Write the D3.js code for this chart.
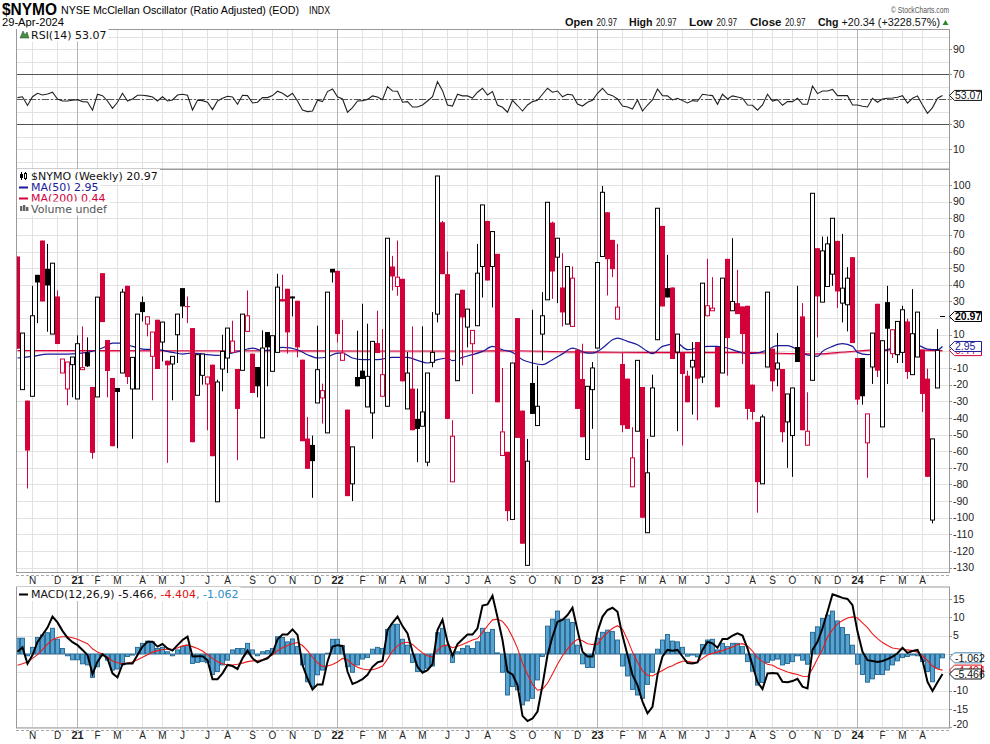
<!DOCTYPE html>
<html><head><meta charset="utf-8">
<script src="https://cdn.jsdelivr.net/npm/d3@7"></script>
<style>
body{margin:0;background:#fff;}
svg{display:block;}
text{font-family:"Liberation Sans",Arial,sans-serif;}
.leg{font-family:"DejaVu Sans",Verdana,sans-serif;font-size:11px;}
</style></head><body>
<svg id="c" width="990" height="744"></svg>
<script>
// ---------- DATA ----------
const startWeek = "2020-10-12";
const priorClose = 40;
const opens = [57,-23,-29.6,-27,46,66.6,49.6,10.4,33,-13,-22.6,-8,-28.6,-11,-0.6,-21.4,-27.4,47,6.8,-16,-22,-13,39.4,-22.6,-22.6,29.6,16.4,-3,19,5.6,-5.6,-7.6,10,38,27.2,14,-26.4,-14.4,-19.6,-8,-90.4,-10.6,-4,-0.6,-10.6,-11.4,12,-1.4,-9.4,-52,11.6,-12,-0.6,31.4,37.6,33,30.4,-5,-52.4,-56.2,-31,-28,-49,49.6,48.4,-5.4,-35,-79.6,-15.4,-11.6,-33.4,-37,5,-27,-33,51,39,43.6,-34.6,-22.4,-40.6,-45,-66.6,-6.6,22.4,77.6,46.4,-78.4,-17.6,37,14.6,4.6,15.4,51,78.4,51,58.6,-62.6,-60.4,-101,20,-35.6,-128.6,-19,-44.6,10.4,31,77.4,56.6,38.4,16.4,15,1,-16.6,-65,-23,2,57,83.6,67,19.4,-7.6,-16.4,-81.4,-48,-21.4,-109,-51,7,75.4,38,38.4,-0.4,-1,-14.6,-9.4,5.6,-15.4,21.4,24.4,2.6,-13,55.6,24.4,29,27,27.4,-20,-42.4,-79.6,-9.4,1.6,-10.6,-10.6,-42.4,-50.6,2.6,21,-56.4,-17.4,62,29.6,39,46.4,66.4,29,28,56.6,-4,-4,-55,-9.4,28.6,-45.4,29.6,-1.4,-2,-0.6,18,-14,-3.4,1,-16.4,-101.4,-22,20.97];
const highs = [57,11,-29.6,39.4,46,66.6,64.6,53,36.6,-4.6,-6.4,-3.4,9.6,15,8.4,-21.4,32.6,47,6.8,-16,-22,37.6,39.4,-3.6,22.4,33,20.8,11.6,19,17.6,-5.6,-3,22.4,38,33,14,-2,-1.6,-15.4,-8,-17,10,14,18.4,-10.6,22.4,36.6,-1.4,-9.4,12.6,11.6,9.4,46.6,46,37.6,33,30.4,-5,-39.4,-50.6,15.4,-19.4,35.6,49.6,48.4,19,-35,-57.4,12.4,28.6,16.6,6,24.4,13.4,68,57.4,66.6,43.6,-0.4,15,-22.4,15,-13,23.6,105.4,78.4,60,-41.4,34.4,37,25.4,12.6,64.6,88,78.4,72,58.6,-10,-60.4,-7,20,-35.6,-52.6,25,-8.6,35.6,89.6,78,68,59,51,51,1,4.6,-21,-6.4,53.4,99.4,83.6,67,64.6,-1,-16.4,-45.6,-5.4,-21.4,-52.6,-14,86,75.4,58,38.4,10.4,-1,-11.6,5.6,5.6,41,55.6,44.6,2.6,44,55.6,68,49,27,27.4,-20,-42.4,-38,35.6,1.6,11,-10.6,-25.6,-22,39.4,29,-24.6,95,62,69,69,80,66.4,70.6,50.6,56.6,-4,-4,-37.6,11,28.6,6.4,39.4,13,18,27.4,19.6,37.4,23.6,1,-10.4,-52.6,13.4,20.97];
const lows = [1.6,-23,-82.4,-27,17,30,11.8,10.4,4.4,-13,-32.4,-27.6,-28.6,-11,-9.4,-64.6,-27.4,17.6,-27.6,-57,-58.2,-13,-19.6,-52.6,-22.6,18,9,-29.4,-10.6,-6,-67,-29.4,-7,20,17,-54.6,-26.4,-20,-47.4,-63,-90.4,-24,-13,-0.6,-65.4,-11.4,12,-25,-27.6,-52,-21,-12,-0.6,30,-1.4,21,-3.6,-54,-70.6,-88,-31,-43.4,-49,41.4,5.4,-5.4,-87,-90,-21,-16.6,-33.4,-52.6,-1,-27,-33,36.6,33.4,-18,-34.6,-47.4,-66.6,-45,-69,-9.6,17.4,46.4,-40.6,-78.4,-17.6,-8.4,2.4,-25.6,15.4,32.4,42.6,26.4,-30.6,-62.6,-102,-101,-52,-115.6,-128.6,-37.6,-44.6,-5.4,31,31.6,29,15,16.4,15,-34.6,-51.6,-65,-46.6,2,57,33.6,44.6,19.4,-48.6,-46.6,-81.4,-48,-100,-109,-51,7,27,32.4,-4.6,-48,-56.6,-30.6,-38,-41.4,-19,21.4,24.4,-33.6,-13,-14.6,24.4,22.4,-7.6,-41,-41,-97,-79.6,-9.4,-24,-21,-54.6,-70,-75.4,-6.4,-47.4,-56.4,-17.4,8.4,29.6,39,39.4,26,17.4,12,5,-32,-32,-76,-19.6,-15.4,-45.4,-19.6,-4,-7,-7,-16.6,-14,-3.4,-36.4,-75.4,-103.4,-22,20.97];
const closes = [1.6,11,-59.6,21.4,41.4,30,39.6,53,4.4,-4.6,-6.4,-3.4,4.6,-9.8,-9,-61,32.6,17.6,-11.8,-57,-24.4,35.6,-15.4,-3.6,22.4,23.6,20.8,11.6,-10.6,17.6,-8.4,-3,22.4,27,26.8,-54.6,-2,-1.6,-15.4,-63,-18.4,0,14,6.2,-34.6,22.4,21.4,-25,-21,2,2.4,9.4,38.6,30,11.4,31.8,2.4,-54,-70.6,-66,-11,-23.6,35.6,47.4,10.4,-1,-87,-57.4,-21,-16.6,-15,6,-1,-14,68,45,44.6,-18,-13,-47.4,-46.6,-36.4,-13,-0.6,105.4,46.4,-40.6,-51,34.4,20.4,25.4,12.6,47,88,42.6,72,-30.6,-48.4,-96,-7,-52,-115.6,-66,-37.6,-33,21.4,89.6,48,68,23.4,51,44,-34.6,-51.6,-21,-10,53.4,95.6,55.4,49.4,26.6,-44.4,-46.6,-64,-5.4,-100,-73,-22,86,27,32.4,-4.6,10.4,-13.6,-30.6,-5.4,-16.4,41,27.4,26,-33.6,44,8,30,22.4,10.4,-34.6,-36.4,-78.6,-39.4,35.6,-18,-7,-48.6,-25.6,-22,-6.4,-47.4,-48,95,33,60.4,64.6,80,36,38,44,5,-29,-27,-37.6,11,-11.6,6.4,13.6,13,18,25,-12.4,10.6,23.6,-25.6,-75.4,-52.6,0.63,20.97];
const rsiValues = [51.3,52,45,52,54.8,53.4,54.2,55.6,50.2,48.6,48.6,49.2,49.7,48.1,47.8,41.2,54,52.9,48.6,42.8,47.6,54.8,48.6,50.2,53.2,53.2,52.7,51.8,48.6,52,48.6,49.4,53.4,54,53.2,41.4,49.2,48.9,47.6,41.7,48.6,50.8,52.4,51.8,46,53.2,52.9,47,47.6,51.3,51.3,52.9,56.4,54.8,52,54.8,48.6,41.4,40.1,40.6,49.2,48.1,56.1,58.2,52,50.2,39.6,43.3,48.6,48.9,49.9,52.7,51.8,49.7,60.1,56.6,56.4,47.6,48.1,43.8,43.8,45.4,48.6,52,64.1,56.9,45.4,44.6,54,52.7,52.7,51,55.6,58.8,53.4,56.1,45.4,43.6,39.6,49.2,45,40.6,45.4,48.1,49.2,54,58.8,55.6,56.6,52,54,53.4,46.2,44.6,47.6,49.2,54.8,58.8,54.2,52.9,50.2,44.6,43.8,42.2,49.4,40.6,45.4,49.4,58.2,52.9,52.7,49.4,50.8,48.9,47,48.9,48.4,54,53.4,52.9,46,54,50.2,52.7,51.8,50.8,45.4,45.2,41.2,45.4,54,48.6,49.7,45.2,48.1,48.1,50.8,46,46,60.6,54.5,56.6,56.6,57.9,52.9,52.9,52.9,45.4,45.4,44.4,43.8,50.8,47.6,50.2,50.8,51,51.6,52.9,46.8,50.8,52.7,45.4,38.8,43.3,50.8,53.07];
const ma50Weeks = [0,3,6,10,14,17,19,21,23,25,28,31,33,35,37,40,43,46,47,49,51,53,56,58,60,62,64,65,67,69,72,75,78,80,82,84,86,87,89,91,93,95,97,99,101,103,105,107,109,111,114,115,117,119,120,122,124,126,127,129,132,134,136,138,140,142,144,146,148,150,152,154,156,158,160,161,163,165,167,168,170,172,174,176,177,179,180,182,184,185];
const ma50Values = [-4,-3,-1.6,-1.6,-0.6,2,5,5,3,1.4,1,-0.6,-1.6,-1,-1.6,-2.4,-1,1.4,2,0.4,1,2.4,1,-2,-4,-3.4,-1,-1,-4,-5,-5,-3.6,-3.6,-5.4,-7,-5,-4,-5.6,-3.6,-2,0,3,1,-0.6,-5,-7,-8,-5,-1.5,2,-1,-1,2,7,8,6,4,0,-1.4,3,4.6,1,2,3,3,2,0,-1.4,-1,1,3.4,3.4,1,-2.2,-3,0,3,4.6,3,-0.6,-2,-1,1,4,6,5,4,1.4,1,2.95];
const ma200Weeks = [0,30,60,90,100,110,120,130,145,155,160,166,172,178,185];
const ma200Values = [0.5,0.4,0.3,0.2,0.4,-0.3,-0.5,-0.6,-0.6,-1.3,-1.5,-0.2,0.9,0.9,0.44];
const macdValues = [0.6,1.8,-2.7,-0.3,3.3,5.2,7.2,10.2,8.6,6.3,4.4,3.2,2.4,1.1,-0.3,-5.5,-2.1,-0.1,-1.2,-5.3,-6.4,-2.8,-2.6,-2.6,-0.3,2,3.3,3.3,2,2.7,1.5,0.9,2.4,3.8,4.7,-0.7,-0.6,-0.6,-1.7,-6.9,-6.9,-5.3,-3,-3.3,-4.1,-1.2,0.9,-1.2,-2.3,-1.7,-1.2,0.2,4,5.3,5.3,6.7,5.2,-3,-6.7,-9.7,-8.3,-8.3,-2.1,2,2.4,2.2,-4.8,-8.2,-7.6,-6.9,-5.7,-3.5,-2.3,-1.9,6.5,8.5,10.2,7.6,5.6,0.6,-3.5,-5.1,-4.4,-2.8,6.5,9.3,3.3,-0.5,2.7,4,5.3,5.3,7,13.2,13.5,15.9,10,3.8,-4.8,-5.6,-8.5,-16.9,-18.3,-17.6,-15.7,-8.5,-0.3,4.7,8.8,9.3,10.6,12.6,6.5,0.6,-0.7,-0.7,6.1,10.2,12,12.6,11.5,5,-0.3,-5.7,-8.5,-13,-16.2,-14.4,-5.7,-0.7,1.1,0.9,1.1,-0.7,-2.5,-2.6,-2.3,1.1,3.3,2.9,1.7,4.1,4.1,5,5.6,5,1.5,-3,-7.7,-9.6,-5.3,-5.2,-5.3,-7.6,-7.7,-7.4,-6.8,-8.9,-9.4,1.1,3.3,7,11.5,16.3,15.8,15.3,15,13.3,6.1,0.6,-1.7,-1.9,-2.2,-1.9,-1.4,-0.7,0.2,1.7,0.3,0.8,1.1,-1.7,-7.6,-10.1,-7.7,-5.466];
const signalValues = [-3.1,-2.7,-2.2,-1.2,-0.2,1.2,2.7,3.9,4.5,4.7,4.7,4.4,4,3.4,2.8,1.4,0.5,-0.1,-0.8,-1.9,-2.4,-2.6,-2.5,-2.2,-1.6,-0.9,-0.2,0.5,0.9,1.2,1.3,1.3,1.6,2.2,2.4,2,1.5,0.8,-0.2,-1.2,-2.1,-2.7,-3,-3,-2.8,-2.5,-2.1,-1.9,-1.8,-1.6,-0.9,-0.3,0.9,1.7,2.3,2.8,3.1,2.3,0.9,-0.9,-2.4,-3.4,-3.3,-2.9,-2.2,-1.2,-1.6,-2.8,-3.6,-4.1,-4.3,-4.3,-3.9,-3.3,-1.4,0.8,2.2,3,3.2,2.6,1.4,0.3,-0.5,-0.8,1,2.2,2.4,1.7,2.1,2.6,3.2,3.8,4.2,5.8,7.7,9.3,9.5,8.9,7.2,4.6,1.6,-2.5,-5.6,-8.3,-9.9,-9.6,-8,-5.5,-2.8,-0.5,1.3,3,4,3.6,2.8,2.6,2.6,4.5,5.8,7,7.7,6.8,3.9,0.5,-2.2,-4.6,-5.8,-6,-5.2,-4.5,-3.7,-3.2,-2.5,-2,-2,-2.3,-2.2,-1.2,-0.3,0.2,0.5,0.9,1.4,1.9,2.6,2.8,2.2,0.8,-1,-2.1,-2.8,-3.1,-3.8,-4.4,-4.9,-5.3,-5.6,-6.1,-6.2,-4,-1.3,1.2,4.6,6.6,8.2,9.1,9.8,10.1,9.8,8.5,7.2,5.5,4.2,3.1,2.3,1.6,1.4,1.2,1.1,0.9,0.5,-0.5,-1.8,-3.3,-4.1,-4.404];
const histValues = [4.3,4.3,-0.5,1.8,4.5,5.2,5.8,7,4,1.5,-0.5,-1.6,-1.6,-2.7,-3,-6.4,-3.5,-0.5,-1.7,-4.4,-4.1,-3,-0.7,-0.3,1.8,2.9,3.5,3.3,1.5,1.8,0.6,-0.5,1.1,2,2.4,-2.6,-2.3,-2.1,-2.4,-5.6,-4.8,-3,-1.7,1.1,1.5,1.5,2.9,1.1,-0.5,0.6,0.9,1.5,4.7,4.5,3.3,4.1,2,-3,-7.6,-8.9,-5.7,-4.4,0.2,4,4,2.3,-3.5,-5,-3,-1.4,-1,1.3,1.8,1.5,6.7,8.1,8.1,4,2.4,-2.3,-4.8,-4.7,-3.9,-3.3,5.8,7,2.4,-2.3,0.6,1.5,2.2,1.5,3.3,7,5.9,6.7,0.3,-5,-11.2,-8.9,-9.8,-13.9,-12.8,-12.1,-7.1,-0.7,7.6,9.5,11.7,9.5,9.5,8.6,2.4,-2.7,-3.7,-3.7,4.3,5.9,6.5,6.1,3.8,-3.3,-6,-9.7,-11.2,-12.1,-8.3,-5,1.3,3.8,5.3,3.5,3.3,1.8,-0.6,-0.3,-0.8,2.6,3.8,4,1.1,2.9,2,2.9,2.9,2,-2.1,-4.7,-8.5,-7.8,-2.3,-1.7,-1.4,-3,-2.6,-2.1,-0.5,-1.7,-2.8,5.9,7.4,9.7,10.6,11.7,9,7.2,5.3,2.4,-2.8,-5.6,-7.7,-6.8,-5.6,-5.6,-4.4,-3,-1.9,-1,-0.7,-0.3,-0.5,-2.1,-4.8,-7.6,-3.9,-1.062];
const monthTicks = ["2020-11-02","2020-12-07","2021-01-04","2021-02-01","2021-03-01","2021-04-05","2021-05-03","2021-05-31","2021-07-05","2021-08-02","2021-09-06","2021-10-04","2021-11-01","2021-12-06","2022-01-03","2022-02-07","2022-03-07","2022-04-04","2022-05-02","2022-06-06","2022-07-04","2022-08-01","2022-09-05","2022-10-03","2022-11-07","2022-12-05","2023-01-02","2023-02-06","2023-03-06","2023-04-03","2023-05-01","2023-06-05","2023-07-03","2023-08-07","2023-09-04","2023-10-02","2023-11-06","2023-12-04","2024-01-01","2024-02-05","2024-03-04","2024-04-01"];
const monthLabels = ["N","D","21","F","M","A","M","J","J","A","S","O","N","D","22","F","M","A","M","J","J","A","S","O","N","D","23","F","M","A","M","J","J","A","S","O","N","D","24","F","M","A"];
const mainGrid = d3.range(-130, 101, 10);
const mainTickLabels = mainGrid.filter(v => v !== 0 && v !== 20);   // 0 and 20 sit under the value tags
const rsiGrid = d3.range(0, 101, 10);
const rsiTickLabels = [90, 70, 30, 10];
const macdGrid = [15, 10, 5, 0, -5, -10, -15, -20];
const macdTickLabels = [15, 10, 5, -10, -15, -20];

// ---------- SETUP ----------
const RED = "#d3003a", BLUE_MA = "#1a1a9a", HIST_FILL = "#56a3d1", HIST_STROKE = "#23658f";
const svg = d3.select("#c");
const parse = d3.utcParse("%Y-%m-%d"), fmt = d3.utcFormat("%Y-%m-%d");
const first = parse(startWeek);
const weeks = opens.map((_, i) => fmt(d3.utcDay.offset(first, 7 * i)));
const x = d3.scaleBand().domain(weeks).range([15, 945]);
const cx = i => x(weeks[i]) + x.bandwidth() / 2;
const L = 16, R = 949;
const rsiY = d3.scaleLinear().domain([-5.8, 106.2]).range([169, 29]);
const mainY = d3.scaleLinear().domain([-132.9, 109.6]).range([572.5, 169]);
const macdY = d3.scaleLinear().domain([-20.2, 18.4]).range([728, 586.5]);
const crisp = v => Math.round(v) + 0.5;

const defs = svg.append("defs");
function clip(id, y0, y1) {
  defs.append("clipPath").attr("id", id).append("rect").attr("x", L + 0.5).attr("y", y0).attr("width", R - L - 0.5).attr("height", y1 - y0);
}
clip("cRsi", 29, 169); clip("cMain", 169, 572.5); clip("cMacd", 586.5, 728);

function grid(y, gridVals, y0, y1) {
  const g = svg.append("g");
  gridVals.forEach(v => {
    g.append("line").attr("x1", L).attr("x2", R).attr("y1", crisp(y(v))).attr("y2", crisp(y(v)))
      .attr("stroke", "#e2e2e2").attr("stroke-width", 1);
  });
  monthTicks.forEach((d, k) => {
    const xx = crisp(x(d) + x.bandwidth() / 2 - 0.5);
    const yr = /^\d\d$/.test(monthLabels[k]);
    g.append("line").attr("x1", xx).attr("x2", xx).attr("y1", y0).attr("y2", y1)
      .attr("stroke", yr ? "#b5b5b5" : "#e2e2e2").attr("stroke-width", 1);
  });
  return g;
}
function frame(y0, y1) {
  svg.append("rect").attr("x", L + 0.5).attr("y", y0 + 0.5).attr("width", R - L).attr("height", y1 - y0 - 1)
    .attr("fill", "none").attr("stroke", "#9a9a9a");
}
function yTicks(y, vals) {
  vals.forEach(v => svg.append("line").attr("x1", R).attr("x2", R + 3).attr("y1", crisp(y(v))).attr("y2", crisp(y(v))).attr("stroke", "#9a9a9a"));
}
function yLabels(y, vals, y0, y1) {
  vals.forEach(v => {
    const yy = Math.min(Math.max(y(v), y0 + 5), y1 - 4);
    svg.append("text").attr("x", 953).attr("y", yy + 3.6).attr("font-size", 10.5).attr("fill", "#222").text(v);
  });
}
function tag(yc, label, stroke, color, bold) {
  const g = svg.append("g");
  const x0 = 949.5, x1 = 981.5;
  g.append("path").attr("d", `M${x0},${yc} L${x0 + 5},${yc - 5} L${x1},${yc - 5} L${x1},${yc + 5} L${x0 + 5},${yc + 5} Z`)
    .attr("fill", "#fff").attr("stroke", stroke).attr("stroke-width", 1);
  g.append("text").attr("x", x0 + 5.5).attr("y", yc + 3.8).attr("font-size", 10.5).attr("font-weight", bold ? "bold" : "normal")
    .attr("fill", color).text(label);
}
function legendLine(xp, yb, parts) {
  const t = svg.append("text").attr("class", "leg").attr("x", xp).attr("y", yb);
  parts.forEach(p => t.append("tspan").attr("fill", p[1]).text(p[0]));
  const bb = t.node().getBBox();
  svg.insert("rect", () => t.node()).attr("x", xp - 14).attr("y", bb.y - 1).attr("width", bb.width + 16).attr("height", bb.height + 1).attr("fill", "#fff");
  return t;
}
function xLabels(yb) {
  monthTicks.forEach((d, k) => {
    const yr = /^\d\d$/.test(monthLabels[k]);
    svg.append("text").attr("x", x(d) + x.bandwidth() / 2).attr("y", yb).attr("text-anchor", "middle")
      .attr("font-size", yr ? 11 : 10).attr("font-weight", yr ? "bold" : "normal").attr("fill", "#222").text(monthLabels[k]);
  });
}
function dashStrip(y) {
  svg.append("line").attr("x1", L).attr("x2", R).attr("y1", y).attr("y2", y).attr("stroke", "#a8a8a8").attr("stroke-dasharray", "3,2");
}

// ---------- HEADER ----------
const NARROW = "'Liberation Sans Narrow','Liberation Sans',Arial";
svg.append("text").attr("x", 2).attr("y", 15).attr("font-family", NARROW)
  .attr("font-weight", "bold").attr("font-size", 16).attr("textLength", 55).attr("lengthAdjust", "spacingAndGlyphs").text("$NYMO");
svg.append("text").attr("x", 61).attr("y", 14).attr("font-family", NARROW)
  .attr("font-size", 11).attr("textLength", 238).attr("lengthAdjust", "spacingAndGlyphs").text("NYSE McClellan Oscillator (Ratio Adjusted) (EOD)");
svg.append("text").attr("x", 309).attr("y", 14).attr("font-family", NARROW).attr("font-size", 10)
  .attr("textLength", 21).attr("lengthAdjust", "spacingAndGlyphs").text("INDX");
svg.append("text").attr("x", 949).attr("y", 13).attr("text-anchor", "end").attr("font-size", 9.5).attr("fill", "#555")
  .attr("textLength", 58).attr("lengthAdjust", "spacingAndGlyphs").text("© StockCharts.com");
svg.append("text").attr("x", 2).attr("y", 26).attr("font-family", NARROW)
  .attr("font-size", 11.5).attr("textLength", 62).attr("lengthAdjust", "spacingAndGlyphs").text("29-Apr-2024");
[["Open", 565, 28, 1], ["20.97", 596.5, 20.5, 0], ["High", 629, 23.5, 1], ["20.97", 656, 20.5, 0], ["Low", 689, 23.5, 1], ["20.97", 716.5, 20.5, 0],
 ["Close", 750, 31.5, 1], ["20.97", 785, 20.5, 0], ["Chg", 818, 20.5, 1], ["+20.34 (+3228.57%)", 841.5, 98.5, 0]].forEach(s => {
  svg.append("text").attr("x", s[1]).attr("y", 26).attr("font-size", s[3] ? 10.5 : 10).attr("font-weight", s[3] ? "bold" : "normal")
    .attr("textLength", s[2]).attr("lengthAdjust", "spacingAndGlyphs").attr("fill", "#111").text(s[0]);
});
svg.append("path").attr("d", "M942.5,25 L948.5,25 L945.5,20 Z").attr("fill", "#2a8a2a");

// ---------- RSI PANEL ----------
grid(rsiY, rsiGrid, 29, 169);
svg.append("line").attr("x1", L).attr("x2", R).attr("y1", crisp(rsiY(70))).attr("y2", crisp(rsiY(70))).attr("stroke", "#555");
svg.append("line").attr("x1", L).attr("x2", R).attr("y1", crisp(rsiY(30))).attr("y2", crisp(rsiY(30))).attr("stroke", "#555");
svg.append("line").attr("x1", L).attr("x2", R).attr("y1", crisp(rsiY(50))).attr("y2", crisp(rsiY(50))).attr("stroke", "#555").attr("stroke-dasharray", "7,2,2,2");
svg.append("path").attr("clip-path", "url(#cRsi)")
  .attr("d", d3.line().x((d, i) => cx(i)).y(d => rsiY(d))(rsiValues))
  .attr("fill", "none").attr("stroke", "#222").attr("stroke-width", 1.1);
frame(29, 169.5);
legendLine(31, 38.5, [["RSI(14) 53.07", "#111"]]);
svg.append("path").attr("d", "M20,38 L23,31 L25,35 L27,32 L29,38 Z").attr("fill", "#4a8a4a").attr("stroke", "#2d5e2d").attr("stroke-width", 0.6);
yTicks(rsiY, [90, 70, 50, 30, 10]);
yLabels(rsiY, rsiTickLabels, 29, 169);
tag(rsiY(53.07), "53.07", "#111", "#111", false);

// ---------- MAIN PANEL ----------
grid(mainY, mainGrid, 169, 572.5);
const gm = svg.append("g").attr("clip-path", "url(#cMain)");
const maLine = d3.line().x(d => cx(d[0])).y(d => mainY(d[1])).curve(d3.curveMonotoneX);
const ma200 = ma200Weeks.map((w, k) => [w, ma200Values[k]]);
const ma50 = ma50Weeks.map((w, k) => [w, ma50Values[k]]);
gm.append("path").attr("d", maLine(ma200)).attr("transform", "translate(0,1)").attr("fill", "none").attr("stroke", "#f2a3b5").attr("stroke-width", 1.2);
gm.append("path").attr("d", maLine(ma200)).attr("fill", "none").attr("stroke", RED).attr("stroke-width", 1.1);
gm.append("path").attr("d", maLine(ma50)).attr("fill", "none").attr("stroke", BLUE_MA).attr("stroke-width", 1.2);
const candles = opens.map((o, i) => {
  const c = closes[i], prev = i ? closes[i - 1] : priorClose;
  return { i, o, h: highs[i], l: lows[i], c, col: c >= prev ? "#000" : RED };
});
candles.forEach(d => {
  const xl = x(weeks[d.i]);
  const wx = Math.floor(cx(d.i)) + 0.5;
  gm.append("line").attr("x1", wx).attr("x2", wx).attr("y1", mainY(d.h)).attr("y2", mainY(d.l)).attr("stroke", d.col).attr("stroke-width", 1);
  const top = mainY(Math.max(d.o, d.c)), bot = mainY(Math.min(d.o, d.c));
  if (d.o === d.c) {
    gm.append("line").attr("x1", xl).attr("x2", xl + 5).attr("y1", crisp(top)).attr("y2", crisp(top)).attr("stroke", d.col);
  } else if (d.c > d.o) {
    gm.append("rect").attr("x", xl + 0.5).attr("y", top).attr("width", 4).attr("height", Math.max(1, bot - top))
      .attr("fill", "#fff").attr("stroke", d.col).attr("stroke-width", 1);
  } else {
    gm.append("rect").attr("x", xl).attr("y", top).attr("width", 5).attr("height", Math.max(1, bot - top)).attr("fill", d.col);
  }
});
frame(169, 573);
dashStrip(575.5);
legendLine(31, 180, [["$NYMO (Weekly) 20.97", "#111"]]);
svg.append("line").attr("x1", 21.5).attr("x2", 21.5).attr("y1", 172).attr("y2", 180).attr("stroke", "#000");
svg.append("rect").attr("x", 20).attr("y", 174).attr("width", 3).attr("height", 4).attr("fill", "#000");
svg.append("line").attr("x1", 25.5).attr("x2", 25.5).attr("y1", 172).attr("y2", 180).attr("stroke", "#000");
svg.append("rect").attr("x", 24.5).attr("y", 173.5).attr("width", 2).attr("height", 5).attr("fill", "#fff").attr("stroke", "#000");
legendLine(31, 191, [["MA(50) 2.95", BLUE_MA]]);
svg.append("line").attr("x1", 19).attr("x2", 28).attr("y1", 187.5).attr("y2", 187.5).attr("stroke", BLUE_MA).attr("stroke-width", 2);
legendLine(31, 202, [["MA(200) 0.44", RED]]);
svg.append("line").attr("x1", 19).attr("x2", 28).attr("y1", 198.5).attr("y2", 198.5).attr("stroke", RED).attr("stroke-width", 2);
legendLine(31, 212.5, [["Volume undef", "#555"]]);
[[20, 206], [23, 205], [26, 207]].forEach(b => svg.append("rect").attr("x", b[0]).attr("y", b[1]).attr("width", 2.4).attr("height", 211 - b[1]).attr("fill", "#666"));
yTicks(mainY, mainGrid);
yLabels(mainY, mainTickLabels, 169, 572.5);
tag(mainY(0.44), "0.44", RED, RED, false);
tag(mainY(2.95), "2.95", BLUE_MA, BLUE_MA, false);
tag(mainY(20.97), "20.97", "#000", "#000", true);
xLabels(583.5);

// ---------- MACD PANEL ----------
grid(macdY, macdGrid, 586.5, 728);
const gd = svg.append("g").attr("clip-path", "url(#cMacd)");
histValues.forEach((v, i) => {
  const y0 = macdY(0), y1 = macdY(v);
  gd.append("rect").attr("x", x(weeks[i]) + 0.5).attr("y", Math.min(y0, y1)).attr("width", 4).attr("height", Math.abs(y1 - y0))
    .attr("fill", HIST_FILL).attr("stroke", HIST_STROKE).attr("stroke-width", 0.9);
});
gd.append("path").attr("d", d3.line().x((d, i) => cx(i)).y(d => macdY(d))(signalValues)).attr("fill", "none").attr("stroke", "#f01818").attr("stroke-width", 1.1);
gd.append("path").attr("d", d3.line().x((d, i) => cx(i)).y(d => macdY(d))(macdValues)).attr("fill", "none").attr("stroke", "#000").attr("stroke-width", 2);
frame(586.5, 728.5);
dashStrip(730.5);
legendLine(31, 598, [["MACD(12,26,9) -5.466", "#111"], [", -4.404", "#e01010"], [", -1.062", "#2b8fc8"]]);
svg.append("line").attr("x1", 19).attr("x2", 28).attr("y1", 594.5).attr("y2", 594.5).attr("stroke", "#000").attr("stroke-width", 2);
yTicks(macdY, macdGrid);
yLabels(macdY, macdTickLabels, 586.5, 728);
tag(macdY(-1.062), "-1.062", "#3d7fb0", "#111", false);
tag(macdY(-4.404), "-4.404", "#e01010", "#e01010", false);
tag(macdY(-5.466), "-5.466", "#111", "#111", false);
xLabels(739);
</script>
</body></html>
